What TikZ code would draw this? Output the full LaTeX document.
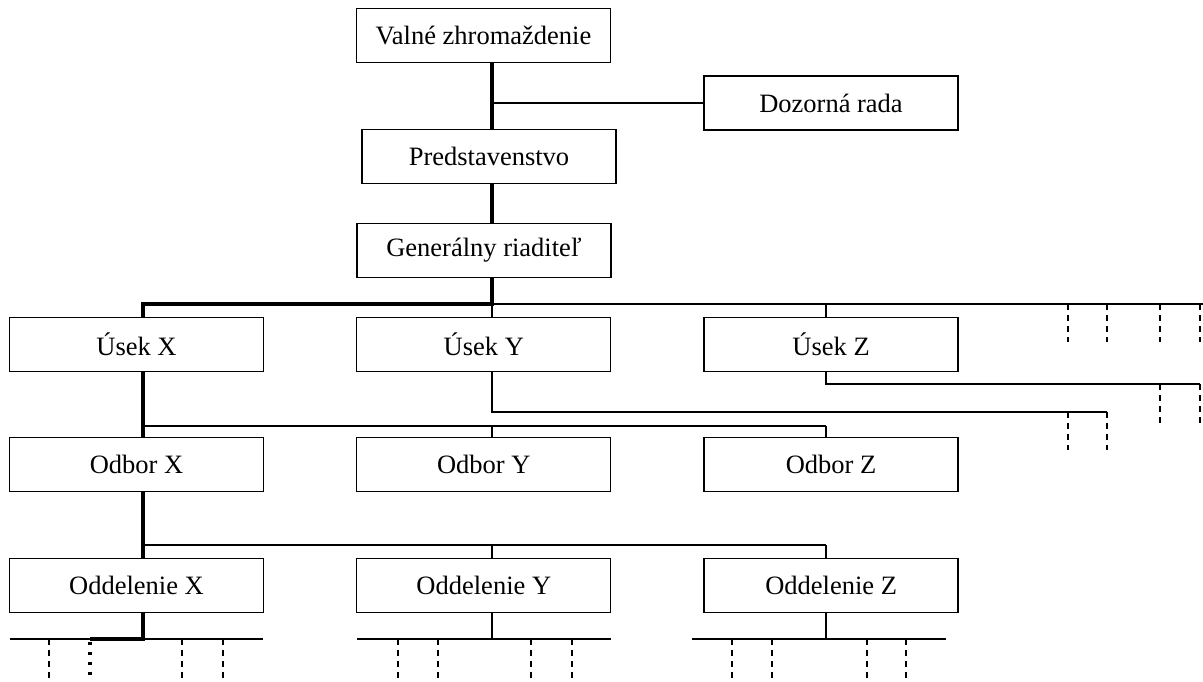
\documentclass[tikz,border=0pt]{standalone}
\usepackage{fontspec}
\setmainfont{Liberation Serif}
\usetikzlibrary{positioning}
\tikzset{
  box/.style={draw, line width=1.3pt, minimum width=254pt, minimum height=54pt,
    inner sep=0, font=\fontsize{26.5}{30}\selectfont},
  link/.style={line width=1.3pt},
  spine/.style={line width=4pt},
  stub/.style={line width=1.5pt, dash pattern=on 6pt off 5pt},
  dots/.style={line width=4pt, dash pattern=on 3pt off 7pt}
}

\begin{document}
\begin{tikzpicture}[x=1pt, y=-1pt, node distance=65pt and 92pt]
    \useasboundingbox (0,0) rectangle (1203,682);

    % top of the company
    \node [box] (valne) at (483.5,35.5) {Valné zhromaždenie};
    \node [box] (dozor) at (831,103) {Dozorná rada};
    \node [box] (pred) at (489,156.5) {Predstavenstvo};
    \node [box] (gen) at (484,250.5) {Generálny riaditeľ};

    % useky, odbory, oddelenia
    \node [box] (ux) at (136.5,344.5) {Úsek X};
    \node [box, right=of ux] (uy) {Úsek Y};
    \node [box, right=of uy] (uz) {Úsek Z};
    \node [box, below=of ux] (ox) {Odbor X};
    \node [box, below=of uy] (oy) {Odbor Y};
    \node [box, below=of uz] (oz) {Odbor Z};
    \node [box, below=65.5pt of ox] (dx) {Oddelenie X};
    \node [box, below=65.5pt of oy] (dy) {Oddelenie Y};
    \node [box, below=65.5pt of oz] (dz) {Oddelenie Z};

    % columns and buses of the connectors
    \coordinate (cx) at (143,0);
    \coordinate (cy) at (492,0);
    \coordinate (cz) at (826,0);
    \coordinate (bus1) at (0,304);
    \coordinate (busy) at (0,412);
    \coordinate (busz) at (0,384);
    \coordinate (bus2) at (0,426);
    \coordinate (bus3) at (0,545);
    \coordinate (bus4) at (0,639);
    \coordinate (rim) at (1203,0);
    \coordinate (endy) at (1107,0);
    \coordinate (endz) at (1200,0);
    \coordinate (px) at (90,0);

    % line of command
    \draw [spine] (valne.south -| cy) -- (pred.north -| cy);
    \draw [link] (cy |- dozor.west) -- (dozor.west);
    \draw [spine] (pred.south -| cy) -- (gen.north -| cy);
    \draw [link] (cy |- bus1) -- (rim |- bus1);
    \draw [link] (cy |- bus1) -- (uy.north -| cy)
          (cz |- bus1) -- (uz.north -| cz);
    \draw [spine] (gen.south -| cy) -- (cy |- bus1) -- (cx |- bus1)
          -- (ux.north -| cx);

    \draw [link] (uy.south -| cy) -- (cy |- busy) -- (endy |- busy);
    \draw [link] (uz.south -| cz) -- (cz |- busz) -- (endz |- busz);

    \draw [link] (cx |- bus2) -- (cz |- bus2)
          (cy |- bus2) -- (oy.north -| cy)
          (cz |- bus2) -- (oz.north -| cz);
    \draw [spine] (ux.south -| cx) -- (ox.north -| cx);

    \draw [link] (cx |- bus3) -- (cz |- bus3)
          (cy |- bus3) -- (dy.north -| cy)
          (cz |- bus3) -- (dz.north -| cz);
    \draw [spine] (ox.south -| cx) -- (dx.north -| cx);

    % bottom level
    \draw [link] (10,639) -- (263,639)
          (dy.south -| cy) -- (cy |- bus4)
          (357,639) -- (611,639)
          (dz.south -| cz) -- (cz |- bus4)
          (692,639) -- (946,639);
    \draw [spine] (dx.south -| cx) -- (cx |- bus4) -- (px |- bus4);
    \draw [dots] (px |- bus4) ++(0,3) -- (90,682);

    % open ends
    \foreach \x in {1068,1107,1160,1200}
      \draw [stub] (\x,304) -- ++(0,38);
    \foreach \x in {1068,1107}
      \draw [stub] (\x,412) -- ++(0,38);
    \foreach \x in {1160,1200}
      \draw [stub] (\x,384) -- ++(0,39);
    \foreach \x in {49,182,223,398,438,531,572,732,772,867,906}
      \draw [stub] (\x,639) -- (\x,682);
\end{tikzpicture}
\end{document}
